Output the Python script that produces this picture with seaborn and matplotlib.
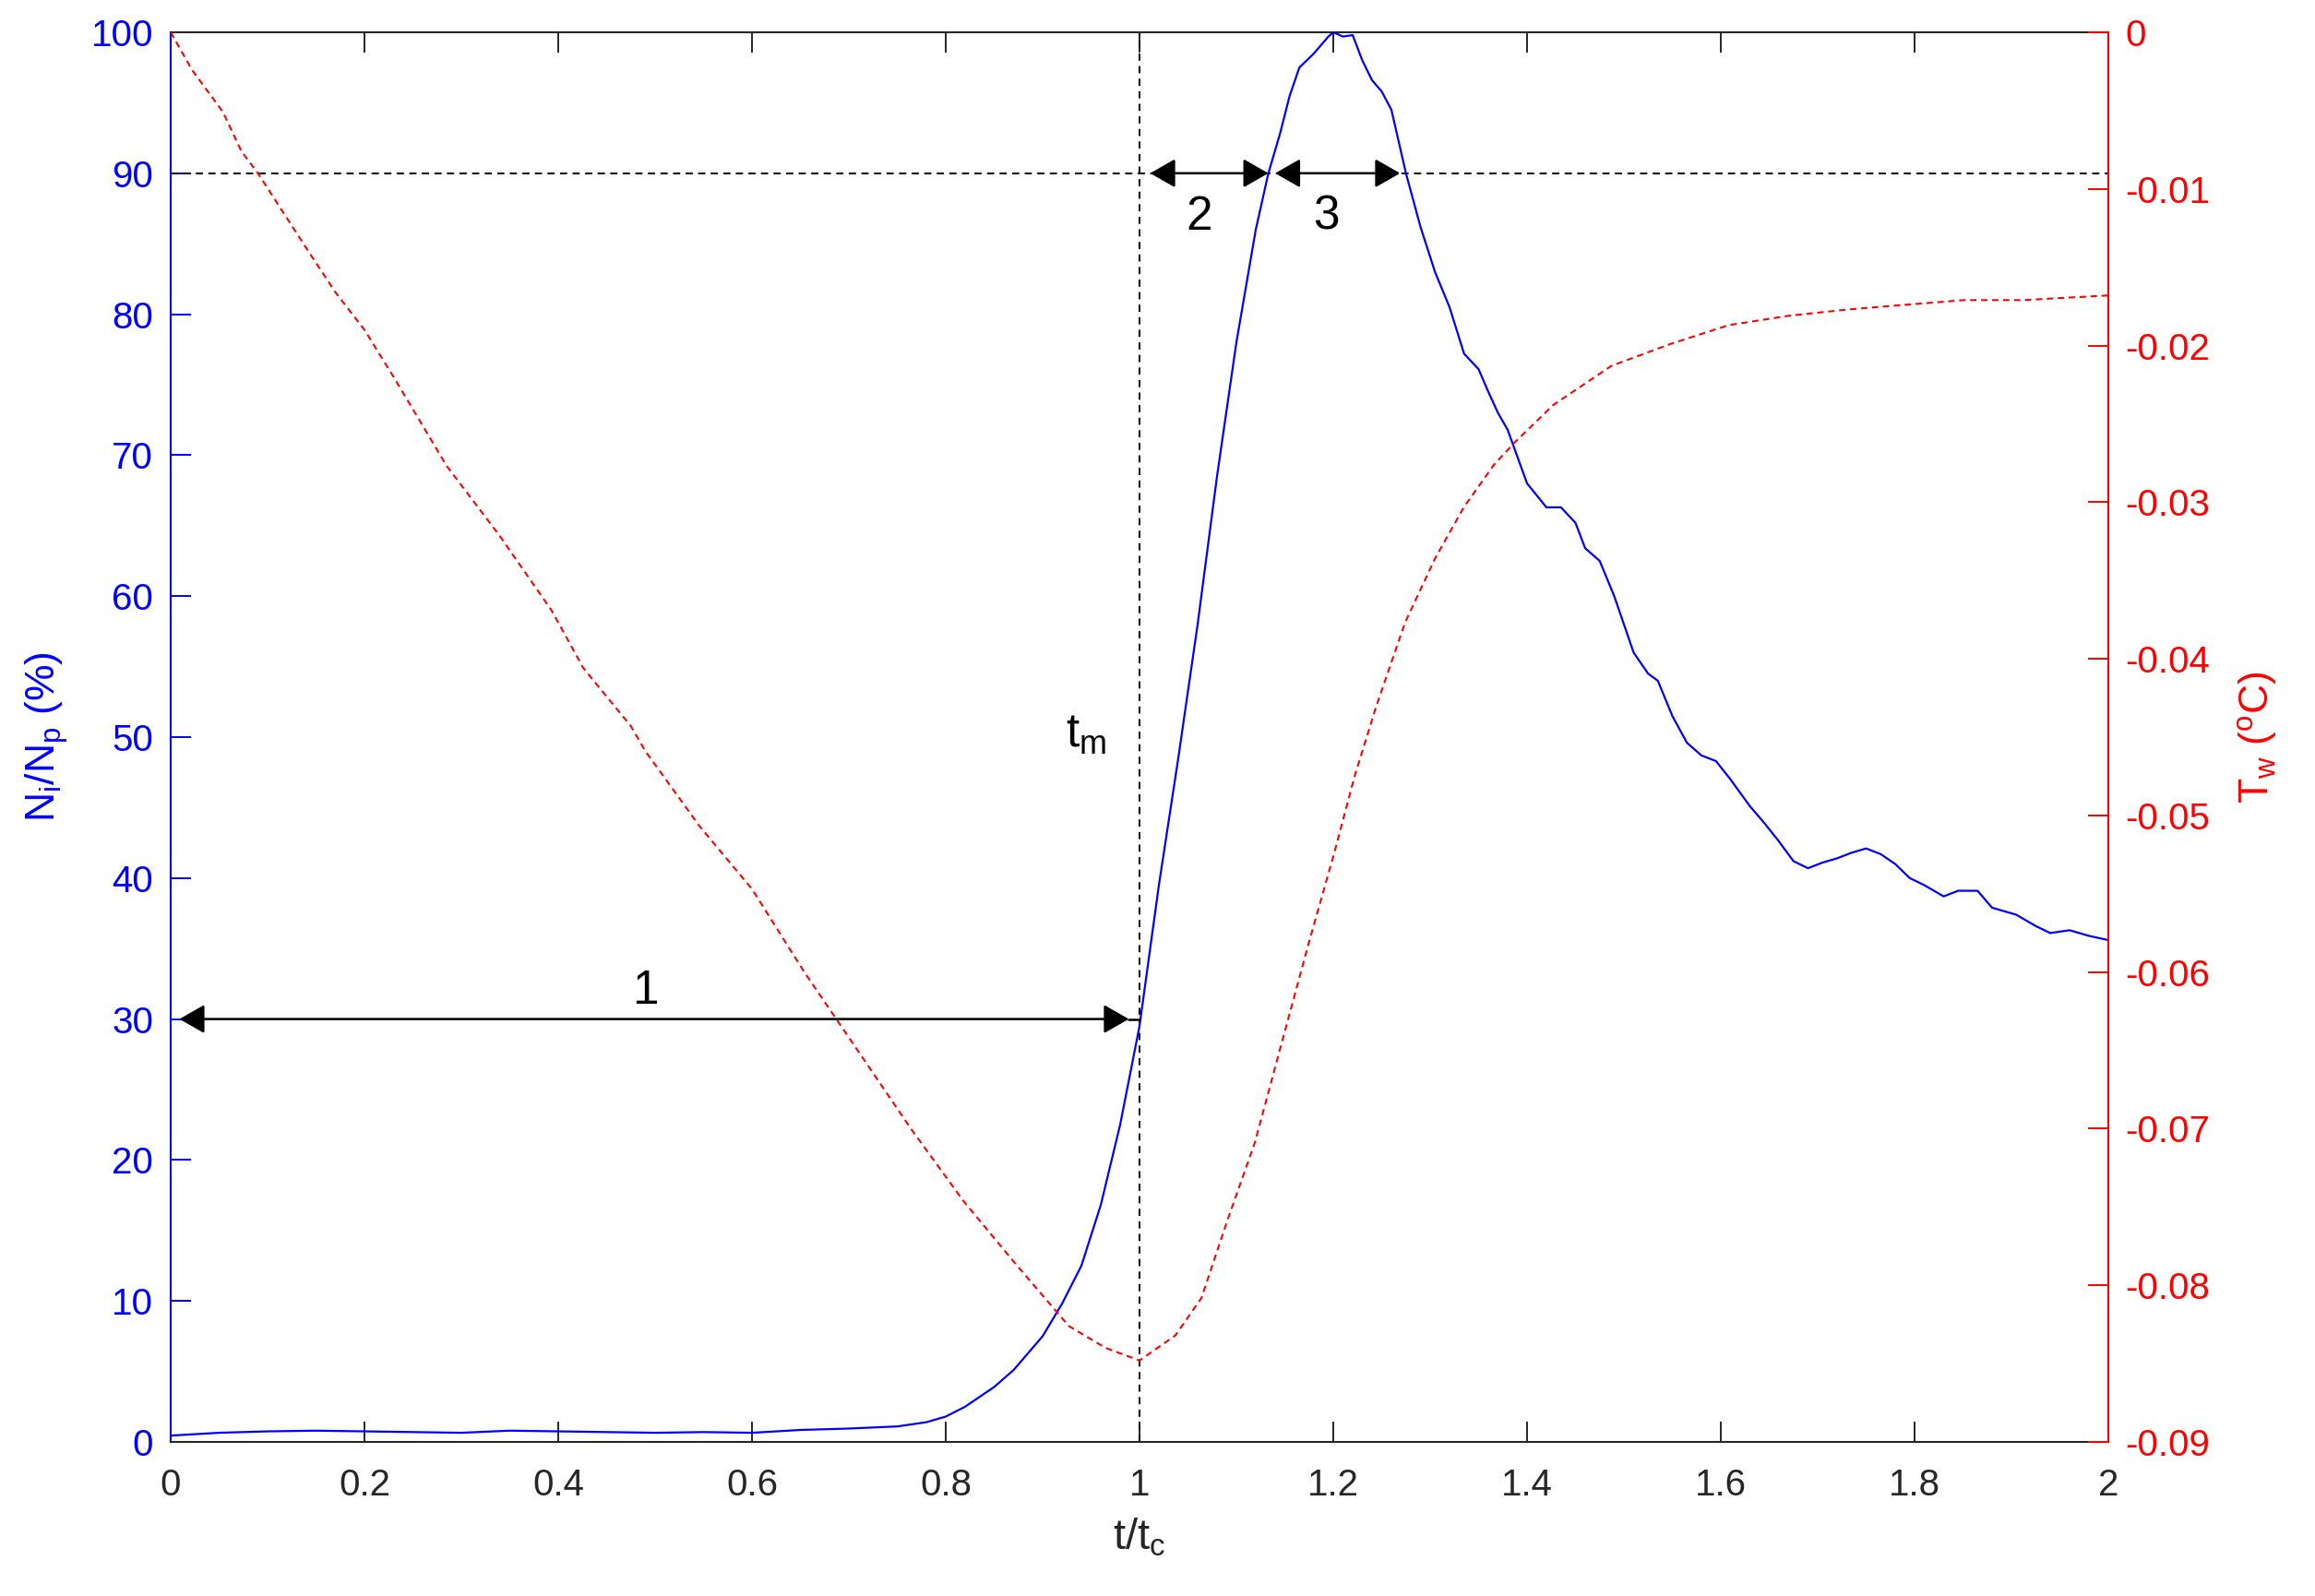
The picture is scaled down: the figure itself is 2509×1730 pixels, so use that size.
import matplotlib
matplotlib.use("Agg")
import matplotlib.pyplot as plt
import seaborn as sns
import numpy as np

# ---------------- data ----------------
t_ratio_n = [0, 0.05, 0.1, 0.15, 0.2, 0.25, 0.3, 0.35, 0.4, 0.45, 0.5, 0.55, 0.6, 0.65,
             0.7, 0.75, 0.78, 0.8, 0.82, 0.85, 0.87, 0.9, 0.92, 0.94, 0.96, 0.98, 1.0,
             1.02, 1.04, 1.06, 1.08, 1.1, 1.12, 1.133, 1.145, 1.155, 1.165, 1.18, 1.195,
             1.2, 1.21, 1.22, 1.23, 1.24, 1.25, 1.26, 1.275, 1.29, 1.305, 1.32, 1.335,
             1.35, 1.36, 1.37, 1.38, 1.4, 1.42, 1.435, 1.45, 1.46, 1.475, 1.49, 1.5, 1.51,
             1.525, 1.535, 1.55, 1.565, 1.58, 1.595, 1.61, 1.63, 1.645, 1.66, 1.675, 1.69,
             1.705, 1.72, 1.735, 1.75, 1.765, 1.78, 1.795, 1.81, 1.83, 1.845, 1.865, 1.88,
             1.905, 1.925, 1.94, 1.96, 1.98, 2.0]
ni_np = [0.45, 0.65, 0.75, 0.8, 0.75, 0.7, 0.65, 0.8, 0.75, 0.7, 0.65, 0.7, 0.65, 0.85,
         0.95, 1.1, 1.4, 1.8, 2.5, 3.9, 5.1, 7.5, 9.8, 12.5, 16.8, 22.5, 29.5,
         39.5, 48.5, 58.0, 68.5, 78.0, 86.0, 90.0, 92.8, 95.5, 97.5, 98.5, 99.7,
         100.0, 99.7, 99.8, 98.0, 96.6, 95.8, 94.5, 90.0, 86.2, 83.0, 80.5, 77.2,
         76.1, 74.5, 73.0, 71.8, 68.0, 66.3, 66.3, 65.2, 63.4, 62.5, 60.0, 58.0, 56.0,
         54.5, 54.0, 51.5, 49.6, 48.7, 48.3, 47.0, 45.1, 43.9, 42.6, 41.2, 40.7,
         41.1, 41.4, 41.8, 42.1, 41.7, 41.0, 40.0, 39.5, 38.7, 39.1, 39.1, 37.9,
         37.4, 36.6, 36.1, 36.3, 35.9, 35.6]

t_ratio_w = [0, 0.022, 0.054, 0.073, 0.09, 0.137, 0.17, 0.2, 0.23, 0.285, 0.339, 0.393,
             0.426, 0.475, 0.49, 0.546, 0.6, 0.654, 0.709, 0.764, 0.818, 0.873, 0.927,
             0.965, 1.0, 1.037, 1.064, 1.091, 1.119, 1.146, 1.174, 1.201, 1.222, 1.244,
             1.274, 1.305, 1.335, 1.366, 1.387, 1.427, 1.487, 1.548, 1.608, 1.67, 1.731,
             1.79, 1.851, 1.912, 2.0]
t_w = [0, -0.0024, -0.0051, -0.0076, -0.009, -0.0135, -0.0166, -0.019, -0.022, -0.0277,
       -0.0321, -0.0369, -0.0406, -0.0443, -0.0459, -0.0507, -0.0547, -0.06, -0.065,
       -0.07, -0.0746, -0.0787, -0.0826, -0.084, -0.0848, -0.0832, -0.0808, -0.0758,
       -0.0709, -0.0647, -0.0583, -0.0524, -0.0475, -0.0431, -0.0377, -0.0336, -0.0303,
       -0.0276, -0.0262, -0.0238, -0.0213, -0.0199, -0.0187, -0.0181, -0.0177, -0.0174,
       -0.0171, -0.0171, -0.0168]

x_ticks = [0, 0.2, 0.4, 0.6, 0.8, 1, 1.2, 1.4, 1.6, 1.8, 2]
x_tick_labels = ["0", "0.2", "0.4", "0.6", "0.8", "1", "1.2", "1.4", "1.6", "1.8", "2"]
left_ticks = [0, 10, 20, 30, 40, 50, 60, 70, 80, 90, 100]
left_tick_labels = ["0", "10", "20", "30", "40", "50", "60", "70", "80", "90", "100"]
right_ticks = [0, -0.01, -0.02, -0.03, -0.04, -0.05, -0.06, -0.07, -0.08, -0.09]
right_tick_labels = ["0", "-0.01", "-0.02", "-0.03", "-0.04", "-0.05", "-0.06",
                     "-0.07", "-0.08", "-0.09"]

ref_level = 90      # horizontal dashed reference (%)
t_m = 1.0           # vertical dashed reference

# double arrows: (x_start, x_end, y, label, label_x, label_y)
arrow_specs = [
    (0.009, 0.989, 30, "1", 0.49, 32.0),
    (1.011, 1.133, 90, "2", 1.062, 86.9),
    (1.14, 1.269, 90, "3", 1.193, 86.9),
]
tm_label_pos = (0.945, 50.2)

# ---------------- style ----------------
sns.set_theme(style="white")
plt.rcParams["font.family"] = ["Liberation Sans", "DejaVu Sans"]
plt.rcParams["mathtext.fontset"] = "custom"
plt.rcParams["mathtext.rm"] = "Liberation Sans"
plt.rcParams["mathtext.it"] = "Liberation Sans"
plt.rcParams["mathtext.default"] = "regular"
plt.rcParams["axes.unicode_minus"] = False

BLUE = "#0000ff"
RED = "#ff0000"
GREY = "#262626"
TICK_FS = 14.5
LABEL_FS = 16
ANNOT_FS = 18.5

fig = plt.figure(figsize=(2509 / 200, 1730 / 200), dpi=200)
ax = fig.add_axes([185 / 2509, 1 - 1563 / 1730, 2100 / 2509, 1528 / 1730])
ax2 = ax.twinx()

sns.lineplot(x=t_ratio_n, y=ni_np, ax=ax, color=BLUE, linewidth=0.8, zorder=3)
sns.lineplot(x=t_ratio_w, y=t_w, ax=ax2, color=RED, linewidth=0.75,
             linestyle=(0, (3.3, 2.4)), zorder=3)

ax.set_xlim(0, 2)
ax.set_ylim(0, 100)
ax2.set_ylim(-0.09, 0)

# reference lines
ax.axhline(ref_level, color="black", linewidth=0.7, linestyle=(0, (4.0, 3.0)), zorder=2)
ax.axvline(t_m, color="black", linewidth=0.7, linestyle=(0, (4.0, 3.0)), zorder=2)

# arrows + labels
for x0, x1, y, lab, lx, ly in arrow_specs:
    ax.annotate("", xy=(x1, y), xytext=(x0, y),
                arrowprops=dict(arrowstyle="<|-|>,head_length=0.42,head_width=0.24",
                                color="black", lw=0.9, shrinkA=0, shrinkB=0,
                                mutation_scale=20), zorder=4)
    ax.text(lx, ly, lab, fontsize=ANNOT_FS, color="black", ha="center", va="center", zorder=5)
ax.plot([arrow_specs[0][1], t_m], [arrow_specs[0][2]] * 2, color="black", lw=0.9, zorder=4)
ax.text(tm_label_pos[0], tm_label_pos[1], r"$t_m$", fontsize=ANNOT_FS, color="black",
        ha="center", va="center", zorder=5)

# ticks
ax.set_xticks(x_ticks)
ax.set_xticklabels(x_tick_labels)
ax.set_yticks(left_ticks)
ax.set_yticklabels(left_tick_labels)
ax2.set_yticks(right_ticks)
ax2.set_yticklabels(right_tick_labels)

ax.tick_params(axis="x", which="both", direction="in", length=7.9, width=0.7,
               colors=GREY, labelsize=TICK_FS, pad=10, top=True, bottom=True)
ax.tick_params(axis="y", direction="in", length=7.9, width=0.7, colors=BLUE,
               labelsize=TICK_FS, pad=6.8, left=True, right=False)
ax2.tick_params(axis="y", direction="in", length=7.9, width=0.7, colors=RED,
                labelsize=TICK_FS, pad=6.5, left=False, right=True)

for s in ["top", "bottom"]:
    ax.spines[s].set_color(GREY)
    ax.spines[s].set_linewidth(0.75)
ax.spines["left"].set_color(BLUE)
ax.spines["left"].set_linewidth(0.75)
ax.spines["right"].set_visible(False)
for s in ["top", "bottom", "left"]:
    ax2.spines[s].set_visible(False)
ax2.spines["right"].set_color(RED)
ax2.spines["right"].set_linewidth(0.75)

ax.set_xlabel(r"t/t$_c$", fontsize=17, color=GREY, labelpad=5.5)
ax.set_ylabel(r"N$_i$/N$_p$ (%)", fontsize=LABEL_FS, color=BLUE, labelpad=8)
ax2.set_ylabel(r"T$_w$ ($^o$C)", fontsize=LABEL_FS, color=RED, labelpad=10)

fig.savefig("out.png", dpi=200)
